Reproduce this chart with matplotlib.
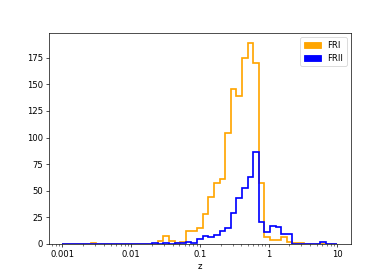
import numpy as np
import matplotlib
matplotlib.use('Agg')
import matplotlib.pyplot as plt
from matplotlib.patches import Patch
from matplotlib.ticker import FuncFormatter

# log-spaced redshift bins, 0.001 .. 10
bin_edges = np.logspace(-3, 1, 50)

# counts per bin
fri_counts = [0, 0, 0, 0, 0, 1, 0, 0, 0, 0,
              0, 0, 0, 0, 0, 0, 0, 3, 7, 3,
              1, 2, 12, 12, 15, 28, 44, 57, 61, 104,
              146, 139, 175, 189, 170, 57, 6, 4, 4, 6,
              2, 1, 1, 0, 0, 0, 0, 0, 0]
frii_counts = [0, 0, 0, 0, 0, 0, 0, 0, 0, 0,
               0, 0, 0, 0, 0, 0, 1, 0, 1, 0,
               1, 1, 2, 1, 5, 7, 6, 8, 12, 15,
               29, 43, 53, 63, 86, 21, 11, 17, 16, 9,
               9, 0, 0, 0, 0, 0, 2, 0, 0]
labels = ['FRI', 'FRII']
colors = ['orange', 'blue']

centers = np.sqrt(bin_edges[:-1] * bin_edges[1:])

fig, ax = plt.subplots(figsize=(390 / 61, 274 / 61), dpi=61)

for counts, c in zip([fri_counts, frii_counts], colors):
    ax.hist(centers, bins=bin_edges, weights=counts, histtype='step',
            color=c, linewidth=2)

ax.set_xscale('log')
ax.xaxis.set_major_formatter(FuncFormatter(lambda v, p: '{:g}'.format(v)))
ax.set_xlabel('z')

handles = [Patch(facecolor=c, edgecolor=c) for c in colors]
ax.legend(handles, labels, loc='upper right')

fig.savefig('out.png', dpi=61)
